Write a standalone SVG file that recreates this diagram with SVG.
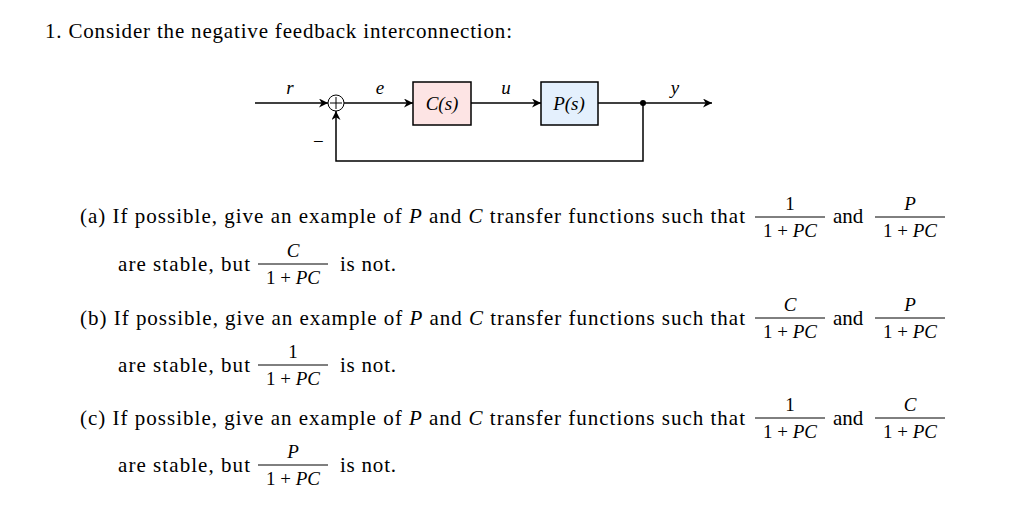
<svg xmlns="http://www.w3.org/2000/svg" width="1024" height="508" viewBox="0 0 1024 508">
<defs><marker id="ar" viewBox="0 0 10 10" refX="10" refY="5" markerWidth="9" markerHeight="9" markerUnits="userSpaceOnUse" orient="auto"><path d="M0,0 L10,5 L0,10 L3,5 Z" fill="#000"/></marker></defs>
<style>
text{font-family:"Liberation Serif",serif;font-size:19px;fill:#000}
.b{font-size:21px}
.m{font-style:italic}
.c{text-anchor:middle}
.l{stroke:#000;stroke-width:1.5;fill:none}
.f{stroke:#000;stroke-width:1}
</style>
<rect width="1024" height="508" fill="#fff"/>
<text class="b" x="45" y="38" textLength="467" lengthAdjust="spacing">1. Consider the negative feedback interconnection:</text>
<g id="connectors">
<line class="l" x1="255" y1="103" x2="328" y2="103" marker-end="url(#ar)"/>
<line class="l" x1="344" y1="103" x2="413" y2="103" marker-end="url(#ar)"/>
<line class="l" x1="471" y1="103" x2="541" y2="103" marker-end="url(#ar)"/>
<line class="l" x1="598" y1="103" x2="712" y2="103" marker-end="url(#ar)"/>
<polyline class="l" points="643,103 643,161 336,161 336,111" marker-end="url(#ar)"/>
<circle cx="643" cy="103" r="3" fill="#000"/>
</g>
<g id="sum"><circle cx="336" cy="103" r="8" fill="#fff" stroke="#000" stroke-width="1"/><line class="f" x1="330" y1="103" x2="342" y2="103"/><line class="f" x1="336" y1="97" x2="336" y2="109"/></g>
<g id="C"><rect x="413" y="82" width="58" height="43" fill="#fde4e4" stroke="#000" stroke-width="1.5"/><text class="m c" x="442" y="110" font-size="20">C(s)</text></g>
<g id="P"><rect x="541" y="82" width="57" height="43" fill="#e4f0fd" stroke="#000" stroke-width="1.5"/><text class="m c" x="569" y="110" font-size="20">P(s)</text></g>
<text class="m c" x="290" y="94">r</text>
<text class="m c" x="380" y="94">e</text>
<text class="m c" x="506" y="94">u</text>
<text class="m c" x="675" y="94">y</text>
<text x="313" y="148">−</text>

<text class="b" x="80" y="223" textLength="665" lengthAdjust="spacing">(a) If possible, give an example of <tspan class="m">P</tspan> and <tspan class="m">C</tspan> transfer functions such that</text>
<text class="c" x="790" y="210">1</text><line class="f" x1="755" y1="217" x2="825" y2="217"/><text class="c" x="790" y="237">1 + <tspan class="m">PC</tspan></text>
<text class="b" x="833" y="223">and</text>
<text class="c m" x="910" y="210">P</text><line class="f" x1="875" y1="217" x2="945" y2="217"/><text class="c" x="910" y="237">1 + <tspan class="m">PC</tspan></text>
<text class="b" x="118" y="271" textLength="132" lengthAdjust="spacing">are stable, but</text>
<text class="c m" x="293" y="257">C</text><line class="f" x1="258" y1="264" x2="328" y2="264"/><text class="c" x="293" y="284">1 + <tspan class="m">PC</tspan></text>
<text class="b" x="340" y="271" textLength="56" lengthAdjust="spacing">is not.</text>

<text class="b" x="80" y="325" textLength="665" lengthAdjust="spacing">(b) If possible, give an example of <tspan class="m">P</tspan> and <tspan class="m">C</tspan> transfer functions such that</text>
<text class="c m" x="790" y="311">C</text><line class="f" x1="755" y1="318" x2="825" y2="318"/><text class="c" x="790" y="338">1 + <tspan class="m">PC</tspan></text>
<text class="b" x="833" y="325">and</text>
<text class="c m" x="910" y="311">P</text><line class="f" x1="875" y1="318" x2="945" y2="318"/><text class="c" x="910" y="338">1 + <tspan class="m">PC</tspan></text>
<text class="b" x="118" y="372" textLength="132" lengthAdjust="spacing">are stable, but</text>
<text class="c" x="293" y="358">1</text><line class="f" x1="258" y1="365" x2="328" y2="365"/><text class="c" x="293" y="385">1 + <tspan class="m">PC</tspan></text>
<text class="b" x="340" y="372" textLength="56" lengthAdjust="spacing">is not.</text>

<text class="b" x="80" y="425" textLength="665" lengthAdjust="spacing">(c) If possible, give an example of <tspan class="m">P</tspan> and <tspan class="m">C</tspan> transfer functions such that</text>
<text class="c" x="790" y="411">1</text><line class="f" x1="755" y1="418" x2="825" y2="418"/><text class="c" x="790" y="438">1 + <tspan class="m">PC</tspan></text>
<text class="b" x="833" y="425">and</text>
<text class="c m" x="910" y="411">C</text><line class="f" x1="875" y1="418" x2="945" y2="418"/><text class="c" x="910" y="438">1 + <tspan class="m">PC</tspan></text>
<text class="b" x="118" y="472" textLength="132" lengthAdjust="spacing">are stable, but</text>
<text class="c m" x="293" y="458">P</text><line class="f" x1="258" y1="465" x2="328" y2="465"/><text class="c" x="293" y="485">1 + <tspan class="m">PC</tspan></text>
<text class="b" x="340" y="472" textLength="56" lengthAdjust="spacing">is not.</text>
</svg>
